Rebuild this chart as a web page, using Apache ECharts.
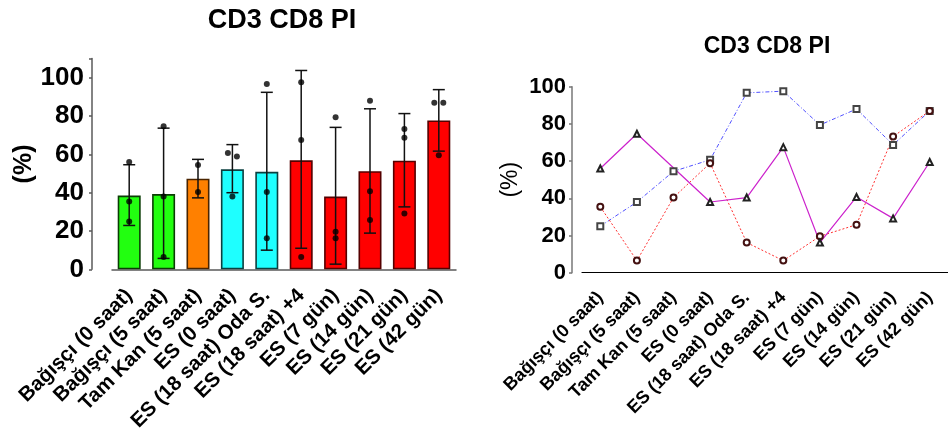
<!DOCTYPE html>
<html>
<head>
<meta charset="utf-8">
<script src="https://cdn.jsdelivr.net/npm/echarts@6/dist/echarts.min.js"></script>
<style>
html,body{margin:0;padding:0;background:#fff;}
#chart{width:948px;height:434px;}
</style>
</head>
<body>
<div id="chart"></div>
<script>
const categories = ['Bağışçı (0 saat)','Bağışçı (5 saat)','Tam Kan (5 saat)','ES (0 saat)','ES (18 saat) Oda S.','ES (18 saat) +4','ES (7 gün)','ES (14 gün)','ES (21 gün)','ES (42 gün)'];
const meanValues = [38.5,39.3,47.3,52.2,50.9,56.9,38.0,51.2,56.7,77.7];
const errLow  = [22.9,5.7,37.3,40.0,10.0,11.0,2.7,18.9,32.6,61.7];
const errHigh = [54.6,73.7,57.4,65.1,92.4,103.8,74.1,83.8,81.3,93.8];
const seriesSquare   = [25,38,54.5,60.7,96.7,97.6,79.4,88,68.7,87];
const seriesCircle   = [35.4,6.5,40.4,58.9,16.2,6.5,19.6,25.8,73.2,87];
const seriesTriangle = [56,74.7,null,38,40.4,67.5,16.2,40.7,29.2,59.5];
const barColors  = ['#22ff10','#22ff10','#ff8000','#1effff','#1effff','#ff0000','#ff0000','#ff0000','#ff0000','#ff0000'];
const barBorders = ['#0b3d05','#0b3d05','#4a2400','#0b4040','#0b4040','#550000','#550000','#550000','#550000','#550000'];
const yTickValues = [0,20,40,60,80,100];

const FONT = '"Liberation Sans", Arial, sans-serif';
const AXIS_GRAY = '#5a5a5a';

// dots for bar chart, with small horizontal shift when two values nearly coincide
const dotData = [];
categories.forEach((c, i) => {
  const vals = [seriesSquare[i], seriesCircle[i], seriesTriangle[i]].filter(v => v != null);
  const shifts = vals.map(() => 0);
  for (let a = 0; a < vals.length; a++) {
    for (let b = a + 1; b < vals.length; b++) {
      if (Math.abs(vals[a] - vals[b]) < 3) { shifts[a] = -4.5; shifts[b] = 4.5; }
    }
  }
  vals.forEach((v, k) => dotData.push({ value: [i, v], symbolOffset: [shifts[k], 0] }));
});

const errData = categories.map((c, i) => [i, errLow[i], errHigh[i]]);

const chart = echarts.init(document.getElementById('chart'), null, { renderer: 'canvas' });
const option = {
  animation: false,
  textStyle: { fontFamily: FONT },
  title: [
    { text: 'CD3 CD8 PI', left: 277, top: 2, textAlign: 'center',
      textStyle: { fontFamily: FONT, fontSize: 27, fontWeight: 'bold', color: '#000' } },
    { text: 'CD3 CD8 PI', left: 762, top: 30, textAlign: 'center',
      textStyle: { fontFamily: FONT, fontSize: 23, fontWeight: 'bold', color: '#000' } }
  ],
  grid: [
    { left: 112, width: 344, top: 58.6, height: 213.4 },
    { left: 582, width: 372, top: 86.7, height: 186 }
  ],
  xAxis: [
    { type: 'category', gridIndex: 0, data: categories, offset: 14, boundaryGap: true,
      axisLine: { lineStyle: { color: AXIS_GRAY, width: 1.5 } },
      axisTick: { alignWithLabel: true, length: 4, lineStyle: { color: AXIS_GRAY, width: 1.5 } },
      axisLabel: { interval: 0, rotate: 45, margin: 9, fontSize: 20.5, fontWeight: 'bold', color: '#000', fontFamily: FONT } },
    { type: 'category', gridIndex: 1, data: categories, offset: 11, boundaryGap: true,
      axisLine: { lineStyle: { color: '#000', width: 1.2 } },
      axisTick: { alignWithLabel: true, length: 4, lineStyle: { color: '#000', width: 1.2 } },
      axisLabel: { interval: 0, rotate: 45, margin: 11, fontSize: 18, fontWeight: 'bold', color: '#000', fontFamily: FONT } }
  ],
  yAxis: [
    { type: 'value', gridIndex: 0, min: 0, max: 110, interval: 20, offset: 20,
      name: '(%)', nameLocation: 'middle', nameGap: 55,
      nameTextStyle: { fontSize: 25, fontWeight: 'bold', color: '#000', fontFamily: FONT },
      axisLine: { show: true, lineStyle: { color: AXIS_GRAY, width: 1.5 } },
      axisTick: { show: true, length: 3, lineStyle: { color: AXIS_GRAY, width: 1.5 } },
      splitLine: { show: false },
      axisLabel: { margin: 8, fontSize: 26, fontWeight: 'bold', color: '#000', fontFamily: FONT,
        formatter: v => (yTickValues.indexOf(v) >= 0 ? String(v) : '') } },
    { type: 'value', gridIndex: 1, min: 0, max: 100, interval: 20, offset: 10,
      name: '(%)', nameLocation: 'middle', nameGap: 50,
      nameTextStyle: { fontSize: 23, fontWeight: 'normal', color: '#000', fontFamily: FONT },
      axisLine: { show: true, lineStyle: { color: '#777', width: 1.5 } },
      axisTick: { show: true, length: 3, lineStyle: { color: '#777', width: 1.5 } },
      splitLine: { show: false },
      axisLabel: { margin: 6, fontSize: 22, fontWeight: 'bold', color: '#000', fontFamily: FONT } }
  ],
  series: [
    { type: 'bar', xAxisIndex: 0, yAxisIndex: 0, barWidth: 23,
      data: meanValues.map((v, i) => ({ value: v, itemStyle: { color: barColors[i], borderColor: barBorders[i], borderWidth: 1.6 } })) },
    { type: 'custom', xAxisIndex: 0, yAxisIndex: 0, data: errData, z: 5,
      renderItem: (params, api) => {
        const lo = api.coord([api.value(0), api.value(1)]);
        const hi = api.coord([api.value(0), api.value(2)]);
        const half = 6;
        const st = { stroke: '#111', lineWidth: 1.5 };
        return { type: 'group', children: [
          { type: 'line', shape: { x1: lo[0], y1: lo[1], x2: hi[0], y2: hi[1] }, style: st },
          { type: 'line', shape: { x1: hi[0] - half, y1: hi[1], x2: hi[0] + half, y2: hi[1] }, style: st },
          { type: 'line', shape: { x1: lo[0] - half, y1: lo[1], x2: lo[0] + half, y2: lo[1] }, style: st }
        ] };
      } },
    { type: 'scatter', xAxisIndex: 0, yAxisIndex: 0, data: dotData, symbol: 'circle', symbolSize: 6, z: 6,
      itemStyle: { color: '#000' } },
    { type: 'line', xAxisIndex: 1, yAxisIndex: 1, data: seriesSquare, symbol: 'emptyRect', symbolSize: 6,
      lineStyle: { color: '#5050ff', width: 1, type: [4, 2, 1, 2] },
      itemStyle: { color: '#444', borderWidth: 1.1 } },
    { type: 'line', xAxisIndex: 1, yAxisIndex: 1, data: seriesCircle, symbol: 'emptyCircle', symbolSize: 6,
      lineStyle: { color: '#ff3030', width: 1, type: [2, 2] },
      itemStyle: { color: '#441111', borderWidth: 1 } },
    { type: 'line', xAxisIndex: 1, yAxisIndex: 1, data: seriesTriangle, connectNulls: true, symbol: 'emptyTriangle', symbolSize: 6,
      lineStyle: { color: '#cc22cc', width: 1.2 },
      itemStyle: { color: '#222', borderWidth: 1.1 } }
  ]
};
chart.setOption(option);
</script>
</body>
</html>
